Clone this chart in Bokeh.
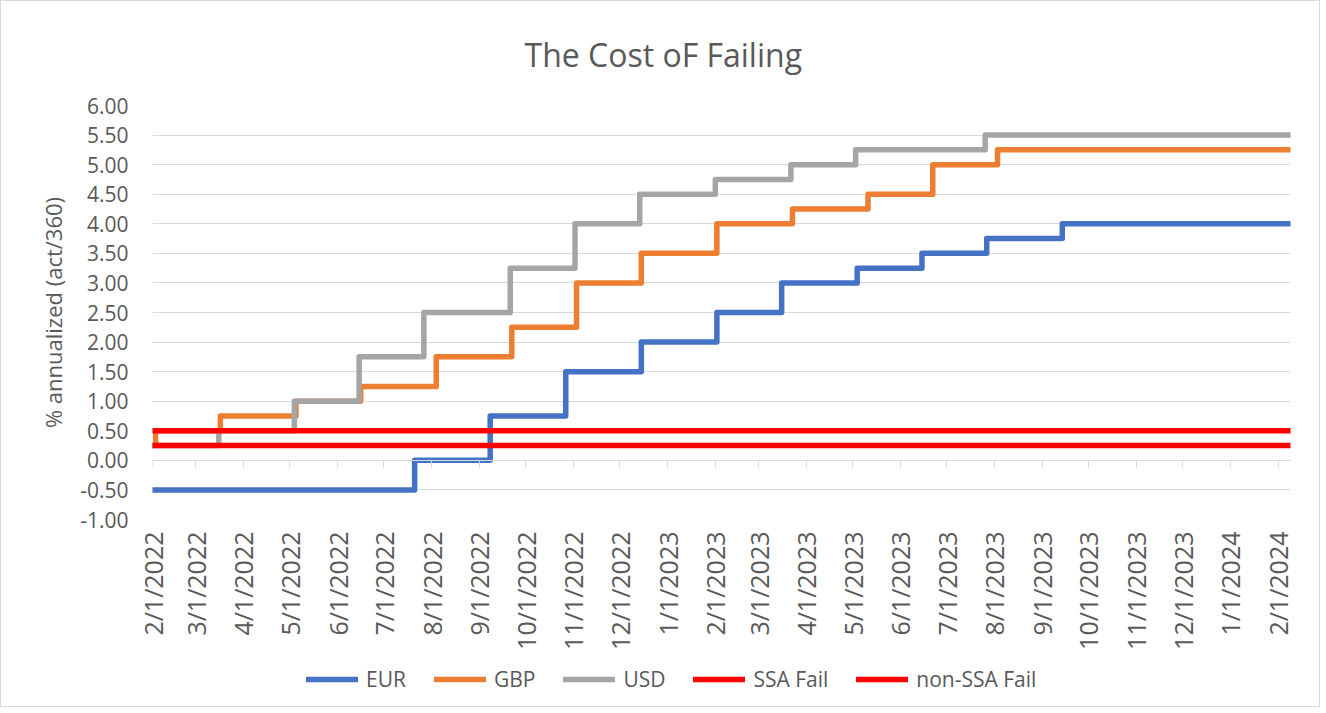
import calendar
from datetime import datetime
from bokeh.plotting import figure
from bokeh.layouts import column
from bokeh.models import (Range1d, DatetimeAxis, FixedTicker, NumeralTickFormatter,
                          CustomJSTickFormatter, Legend, LegendItem, Title)
from bokeh.embed import file_html
from bokeh.resources import INLINE

# ---------------- data (change dates and levels) ----------------
eur_dates = ["2022-02-01", "2022-07-21", "2022-09-08", "2022-10-27", "2022-12-15",
             "2023-02-02", "2023-03-16", "2023-05-04", "2023-06-15", "2023-07-27",
             "2023-09-14", "2024-02-09"]
eur_rates = [-0.50, 0.00, 0.75, 1.50, 2.00, 2.50, 3.00, 3.25, 3.50, 3.75, 4.00, 4.00]

gbp_dates = ["2022-02-01", "2022-02-03", "2022-03-17", "2022-05-05", "2022-06-16",
             "2022-08-04", "2022-09-22", "2022-11-03", "2022-12-15", "2023-02-02",
             "2023-03-23", "2023-05-11", "2023-06-22", "2023-08-03", "2024-02-09"]
gbp_rates = [0.25, 0.50, 0.75, 1.00, 1.25, 1.75, 2.25, 3.00, 3.50, 4.00,
             4.25, 4.50, 5.00, 5.25, 5.25]

usd_dates = ["2022-02-01", "2022-03-16", "2022-05-04", "2022-06-15", "2022-07-27",
             "2022-09-21", "2022-11-02", "2022-12-14", "2023-02-01", "2023-03-22",
             "2023-05-03", "2023-07-26", "2024-02-09"]
usd_rates = [0.25, 0.50, 1.00, 1.75, 2.50, 3.25, 4.00, 4.50, 4.75, 5.00, 5.25, 5.50, 5.50]

ssa_dates = ["2022-02-01", "2024-02-09"]
ssa_rates = [0.50, 0.50]

nonssa_dates = ["2022-02-01", "2024-02-09"]
nonssa_rates = [0.25, 0.25]

x_tick_labels = ["2/1/2022", "3/1/2022", "4/1/2022", "5/1/2022", "6/1/2022", "7/1/2022",
                 "8/1/2022", "9/1/2022", "10/1/2022", "11/1/2022", "12/1/2022", "1/1/2023",
                 "2/1/2023", "3/1/2023", "4/1/2023", "5/1/2023", "6/1/2023", "7/1/2023",
                 "8/1/2023", "9/1/2023", "10/1/2023", "11/1/2023", "12/1/2023", "1/1/2024",
                 "2/1/2024"]
y_ticks = [-1.0, -0.5, 0.0, 0.5, 1.0, 1.5, 2.0, 2.5, 3.0, 3.5, 4.0, 4.5, 5.0, 5.5, 6.0]

series_names = ["EUR", "GBP", "USD", "SSA Fail", "non-SSA Fail"]
series_colors = ["#4472C4", "#ED7D31", "#A5A5A5", "#FF0000", "#FF0000"]
# -----------------------------------------------------------------


def ts(s):
    return datetime.strptime(s, "%Y-%m-%d")


def ms(dt):
    return calendar.timegm(dt.timetuple()) * 1000


TEXT = "#595959"
GRID = "#D9D9D9"
FONT = "Open Sans"
W = 1318

x_start = ts(eur_dates[0])
x_end = ts(eur_dates[-1])

p = figure(width=W, height=655, x_axis_type="datetime",
           output_backend="svg", toolbar_location=None,
           x_range=Range1d(x_start, x_end), y_range=Range1d(-1, 6),
           min_border_left=151, min_border_right=29,
           min_border_top=104, min_border_bottom=137)
p.outline_line_color = None
p.background_fill_color = "white"
p.border_fill_color = "white"

p.title = Title(text="The Cost oF Failing", align="left", text_font=FONT,
                text_font_size="32px", text_font_style="normal",
                text_color=TEXT, standoff=59, offset=372)

tick_ms = [ms(datetime.strptime(l, "%m/%d/%Y")) for l in x_tick_labels]
xticker = FixedTicker(ticks=tick_ms)
xfmt = CustomJSTickFormatter(code="""
const d = new Date(tick);
return (d.getUTCMonth()+1) + "/" + d.getUTCDate() + "/" + d.getUTCFullYear();
""")

# main x axis: labels only, at the bottom
xa = p.xaxis[0]
xa.ticker = xticker
xa.formatter = xfmt
xa.axis_line_color = None
xa.major_tick_line_color = None
xa.minor_tick_line_color = None
xa.major_tick_out = 0
xa.major_tick_in = 0
xa.major_label_standoff = 12
xa.major_label_orientation = 3.141592653589793 / 2
xa.major_label_text_font = FONT
xa.major_label_text_font_size = "25px"
xa.major_label_text_color = TEXT

# axis line with downward ticks crossing at y = 0
zero_axis = DatetimeAxis(fixed_location=0, ticker=xticker, formatter=xfmt,
                         axis_line_color=GRID, axis_line_width=1,
                         major_tick_line_color=GRID, major_tick_out=0, major_tick_in=7,
                         minor_tick_line_color=None,
                         major_label_text_font_size="0px", major_label_standoff=0)
p.add_layout(zero_axis, "above")

ya = p.yaxis[0]
ya.ticker = FixedTicker(ticks=y_ticks)
ya.formatter = NumeralTickFormatter(format="0.00")
ya.axis_line_color = None
ya.major_tick_line_color = None
ya.minor_tick_line_color = None
ya.major_tick_out = 0
ya.major_tick_in = 0
ya.major_label_standoff = 24
ya.major_label_text_font = FONT
ya.major_label_text_font_size = "21px"
ya.major_label_text_color = TEXT
ya.axis_label = "% annualized (act/360)"
ya.axis_label_text_font = FONT
ya.axis_label_text_font_size = "22px"
ya.axis_label_text_font_style = "normal"
ya.axis_label_text_color = TEXT
ya.axis_label_standoff = 9

p.xgrid.grid_line_color = None
p.ygrid.ticker = FixedTicker(ticks=y_ticks)
p.ygrid.grid_line_color = GRID
p.ygrid.grid_line_width = 1

all_dates = [eur_dates, gbp_dates, usd_dates, ssa_dates, nonssa_dates]
all_rates = [eur_rates, gbp_rates, usd_rates, ssa_rates, nonssa_rates]

for name, col, d, r in zip(series_names, series_colors, all_dates, all_rates):
    p.step(x=[ts(s) for s in d], y=r, mode="after", line_color=col,
           line_width=5.5, line_cap="round", line_join="round")

# legend strip below the chart (its own proxies lie outside its visible range)
lf = figure(width=W, height=50, output_backend="svg", toolbar_location=None,
            x_axis_location=None, y_axis_location=None,
            x_range=Range1d(0, 1), y_range=Range1d(0, 1),
            min_border=0)
lf.outline_line_color = None
lf.grid.visible = False
lf.border_fill_color = "white"

items = []
for name, col, d, r in zip(series_names, series_colors, all_dates, all_rates):
    rr = lf.step(x=[ts(s) for s in d], y=r, mode="after", line_color=col,
                 line_width=5.5, line_cap="round", line_join="round")
    items.append(LegendItem(label=name, renderers=[rr]))

legend = Legend(items=items, orientation="horizontal", location=(154, 13),
                glyph_width=52, glyph_height=20, label_standoff=8, spacing=28,
                padding=0, margin=0, border_line_color=None,
                background_fill_alpha=0,
                label_text_font=FONT, label_text_font_size="21px",
                label_text_color=TEXT)
lf.add_layout(legend, "center")

layout = column(p, lf, spacing=0)
layout.styles = {"border": "1px solid #D9D9D9"}

open("out.html", "w").write(file_html(layout, INLINE))
